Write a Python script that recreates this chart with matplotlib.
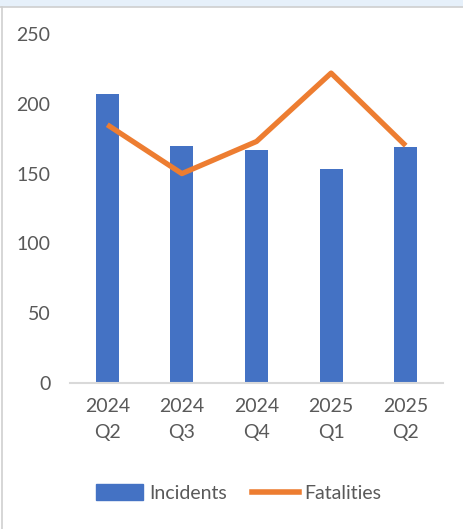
import numpy as np
import matplotlib.pyplot as plt
from matplotlib.lines import Line2D
from matplotlib.patches import Rectangle

# ── Data ───────────────────────────────────────────────────────────────────
quarters = ["2024\nQ2", "2024\nQ3", "2024\nQ4", "2025\nQ1", "2025\nQ2"]
incidents = [207, 170, 167, 153, 169]
fatalities = [185, 150, 173, 222, 170]

# ── Style ──────────────────────────────────────────────────────────────────
BAR_BLUE = "#4472c4"
LINE_ORANGE = "#ed7d31"
TEXT_GREY = "#595959"
AXIS_GREY = "#d9d9d9"

plt.rcParams["font.family"] = ["Lato", "DejaVu Sans"]

W, H = 463, 529
fig = plt.figure(figsize=(W / 100, H / 100), dpi=100, facecolor="white")
ax = fig.add_axes([70 / W, 1 - 383 / H, (443 - 70) / W, (383 - 34) / H])

x = np.arange(len(quarters))
ax.bar(x, incidents, width=0.31, color=BAR_BLUE, label="Incidents", zorder=2)
ax.plot(x, fatalities, color=LINE_ORANGE, linewidth=3.8, label="Fatalities",
        solid_capstyle="butt", zorder=3)

ax.set_xlim(-0.5, len(quarters) - 0.5)
ax.set_ylim(0, 250)
ax.set_yticks(range(0, 251, 50))
ax.set_xticks(x)
ax.set_xticklabels(quarters, fontsize=14, color=TEXT_GREY, linespacing=1.6)
ax.tick_params(axis="y", labelsize=14, labelcolor=TEXT_GREY, length=0, pad=14)
ax.tick_params(axis="x", length=0, pad=11)

for s in ["top", "right", "left"]:
    ax.spines[s].set_visible(False)
ax.spines["bottom"].set_color(AXIS_GREY)
ax.spines["bottom"].set_linewidth(1.5)

handles = [Rectangle((0, 0), 1, 1, color=BAR_BLUE),
           Line2D([0], [0], color=LINE_ORANGE, linewidth=4)]
fig.legend(handles, ["Incidents", "Fatalities"], loc="center",
           bbox_to_anchor=(239 / W, 1 - 493 / H), ncol=2, frameon=False,
           fontsize=14, labelcolor=TEXT_GREY, handlelength=2.4,
           handleheight=0.9, columnspacing=1.3, handletextpad=0.3)

# window frame: light band on top and thin border on the left
fig.patches.append(Rectangle((0, 1 - 6 / H), 1, 6 / H, transform=fig.transFigure,
                             color="#e6f0fa", zorder=0))
fig.lines.append(Line2D([0, 1], [1 - 7 / H, 1 - 7 / H], transform=fig.transFigure,
                        color="#cfcfcf", linewidth=1.2))
fig.lines.append(Line2D([2 / W, 2 / W], [0, 1 - 7 / H], transform=fig.transFigure,
                        color="#cfcfcf", linewidth=1.2))

fig.savefig("out.png", dpi=100, facecolor="white")
